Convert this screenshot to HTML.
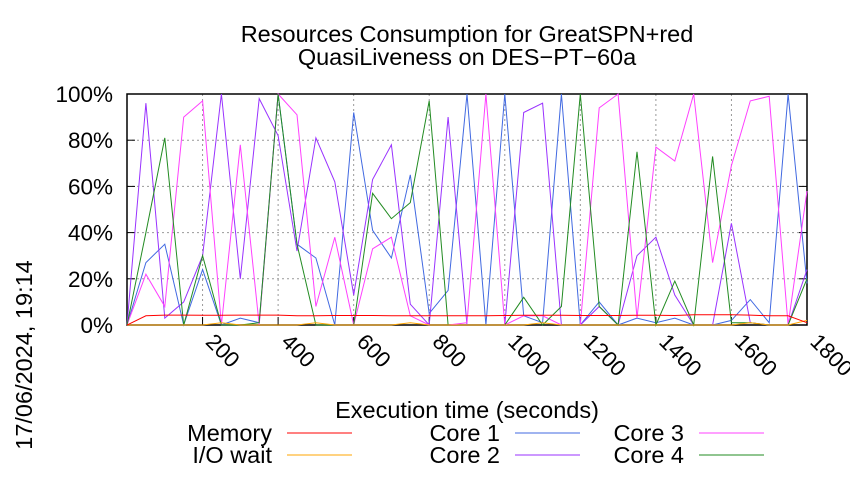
<!DOCTYPE html>
<html><head><meta charset="utf-8"><style>
body{margin:0;background:#fff;}
svg text{font-family:"Liberation Sans",sans-serif;}
</style></head><body>
<svg id="chart" width="850" height="475" xmlns="http://www.w3.org/2000/svg">
<g id="grid"></g>
<g id="axes"></g>
<g id="series"></g>
<text x="467" y="42" text-anchor="middle" font-size="23.5">Resources Consumption for GreatSPN+red</text>
<text x="467" y="65" text-anchor="middle" font-size="23.5">QuasiLiveness on DES−PT−60a</text>
<text x="467" y="418" text-anchor="middle" font-size="23.5">Execution time (seconds)</text>
<text transform="translate(32,355) rotate(-90)" text-anchor="middle" font-size="23.5">17/06/2024, 19:14</text>
<g id="legend"></g>
</svg>
<script>
const times = [0,50,100,150,200,250,300,350,400,450,500,550,600,650,700,750,800,850,900,950,1000,1050,1100,1150,1200,1250,1300,1350,1400,1450,1500,1550,1600,1650,1700,1750,1800];
const memory = [0,4,4.3,4.3,4.2,4.2,4.3,4.3,4.3,4,4,4.1,4.1,4.1,4,4,4,4,4,4,4.1,4.2,4.2,4.2,4.1,4.1,4.1,4.2,4.2,4.1,4.4,4.4,4.4,4.3,4,4,1];
const ioWait = [0,0,0,0,0,1,0,0,0,0,1,0,0,0,0,1,0,0,0,0,0,0,1,0,0,0,0,0,0,0,0,0,0,1,0,0,2];
const core1 = [0,27,35,0,24,0,3,1,100,35,29,0,92,41,29,65,5,15,100,0,100,4,1,100,0,10,0,3,1,3,0,0,2,11,1,100,18];
const core2 = [0,96,3,10,30,100,20,98,82,32,81,62,13,63,78,9,0,90,0,0,0,92,96,0,0,8,0,30,38,13,0,0,44,1,0,0,24];
const core3 = [0,22,8,90,97,0,78,0,100,91,8,38,0,33,38,4,0,0,1,100,0,4,4,0,0,94,100,3,77,71,100,27,69,97,99,0,58];
const core4 = [0,40,81,0,30,0,0,1,100,35,0,0,0,57,46,53,97,0,0,0,0,12,0,8,100,8,0,75,0,19,0,73,1,1,0,0,20];
const xTicks = [200,400,600,800,1000,1200,1400,1600,1800];
const yTicks = [0,20,40,60,80,100];
const seriesNames = ["Memory","I/O wait","Core 1","Core 2","Core 3","Core 4"];
const seriesColors = ["#ff0000","#ffa500","#4169e1","#9932ff","#ff40ff","#228b22"];
const X0=127,X1=807,Y0=325,Y1=94;
const sx=t=>X0+(t-0)/(1800-0)*(X1-X0);
const sy=v=>Y0-v/100*(Y0-Y1);
const NS="http://www.w3.org/2000/svg";
function mk(tag,parent){const e=document.createElementNS(NS,tag);parent.appendChild(e);return e;}
const grid=document.getElementById('grid'),axes=document.getElementById('axes'),ser=document.getElementById('series'),leg=document.getElementById('legend');
yTicks.forEach(v=>{
  if(v>0&&v<100){const l=mk('line',grid);
  
  
  l.setAttribute('x1',X0);l.setAttribute('x2',X1);l.setAttribute('y1',sy(v));l.setAttribute('y2',sy(v));l.setAttribute('stroke','#999');l.setAttribute('stroke-dasharray','2,3');}
  const tk=mk('line',axes);
  
  
  tk.setAttribute('x1',X0);tk.setAttribute('x2',X0+8);tk.setAttribute('y1',sy(v));tk.setAttribute('y2',sy(v));tk.setAttribute('stroke','#000');
  const tk2=mk('line',axes);
  
  
  tk2.setAttribute('x1',X1-8);tk2.setAttribute('x2',X1);tk2.setAttribute('y1',sy(v));tk2.setAttribute('y2',sy(v));tk2.setAttribute('stroke','#000');
  const t=mk('text',axes);
  
  
  t.setAttribute('x',113);t.setAttribute('y',sy(v)+8);t.setAttribute('text-anchor','end');t.setAttribute('font-size','22.5');t.textContent=v+'%';
});
xTicks.forEach(v=>{
  if(v<1800){const l=mk('line',grid);
  
  
  l.setAttribute('x1',sx(v));l.setAttribute('x2',sx(v));l.setAttribute('y1',Y1);l.setAttribute('y2',Y0);l.setAttribute('stroke','#999');l.setAttribute('stroke-dasharray','2,3');}
  const tk=mk('line',axes);
  
  
  tk.setAttribute('x1',sx(v));tk.setAttribute('x2',sx(v));tk.setAttribute('y1',Y0);tk.setAttribute('y2',Y0-8);tk.setAttribute('stroke','#000');
  const t=mk('text',axes);
  
  
  t.setAttribute('transform','translate('+(sx(v)+2)+','+(Y0+18)+') rotate(45)');t.setAttribute('font-size','22');t.textContent=v;
});
const fr=mk('rect',axes);


fr.setAttribute('x',X0);fr.setAttribute('y',Y1);fr.setAttribute('width',X1-X0);fr.setAttribute('height',Y0-Y1);fr.setAttribute('fill','none');fr.setAttribute('stroke','#000');fr.setAttribute('stroke-width','1.5');
const data=[memory,ioWait,core1,core2,core3,core4];
const order=[2,3,4,5,1,0];
order.forEach(i=>{
  const p=mk('polyline',ser);
  
  
  p.setAttribute('points',data[i].map((v,j)=>sx(times[j]).toFixed(1)+','+sy(v).toFixed(1)).join(' '));
  p.setAttribute('fill','none');p.setAttribute('stroke',seriesColors[i]);p.setAttribute('stroke-width','1');
});
const lx=[272,500,684],ly=[441,463];
const lpos=[[0,0],[0,1],[1,0],[1,1],[2,0],[2,1]];
seriesNames.forEach((n,i)=>{
  const [c,r]=lpos[i];
  const t=mk('text',leg);
  
  
  t.setAttribute('x',lx[c]);t.setAttribute('y',ly[r]);t.setAttribute('text-anchor','end');t.setAttribute('font-size','23.5');t.textContent=n;
  const l=mk('line',leg);
  
  
  l.setAttribute('x1',lx[c]+15);l.setAttribute('x2',lx[c]+80);l.setAttribute('y1',ly[r]-8);l.setAttribute('y2',ly[r]-8);l.setAttribute('stroke',seriesColors[i]);
});
</script>
</body></html>
